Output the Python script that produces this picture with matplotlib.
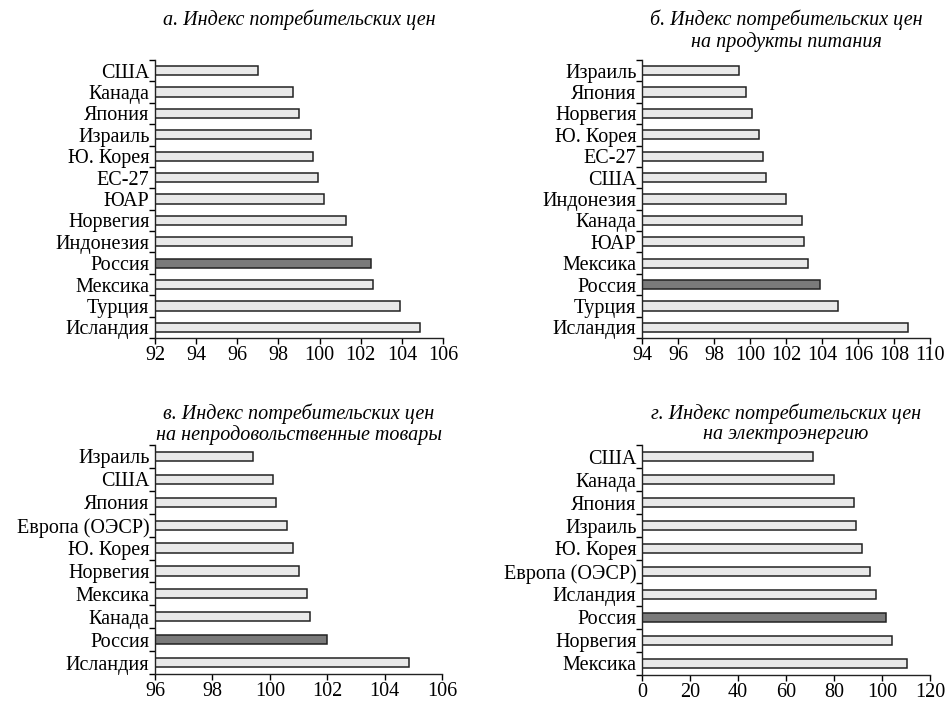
import numpy as np
import matplotlib
matplotlib.use("Agg")
import matplotlib.pyplot as plt

plt.rcParams["font.family"] = ["Liberation Serif", "DejaVu Serif"]

# ============================================================
# DATA
# ============================================================

cats_a = ["США", "Канада", "Япония", "Израиль", "Ю. Корея", "ЕС-27", "ЮАР",
          "Норвегия", "Индонезия", "Россия", "Мексика", "Турция", "Исландия"]
vals_a = [97.0, 98.7, 99.0, 99.6, 99.7, 99.9, 100.2,
          101.3, 101.6, 102.5, 102.6, 103.9, 104.9]
ticks_a = [92, 94, 96, 98, 100, 102, 104, 106]

cats_b = ["Израиль", "Япония", "Норвегия", "Ю. Корея", "ЕС-27", "США",
          "Индонезия", "Канада", "ЮАР", "Мексика", "Россия", "Турция", "Исландия"]
vals_b = [99.4, 99.8, 100.1, 100.5, 100.7, 100.9,
          102.0, 102.9, 103.0, 103.2, 103.9, 104.9, 108.8]
ticks_b = [94, 96, 98, 100, 102, 104, 106, 108, 110]

cats_c = ["Израиль", "США", "Япония", "Европа (ОЭСР)", "Ю. Корея",
          "Норвегия", "Мексика", "Канада", "Россия", "Исландия"]
vals_c = [99.4, 100.1, 100.2, 100.6, 100.8, 101.0, 101.3, 101.4, 102.0, 104.85]
ticks_c = [96, 98, 100, 102, 104, 106]

cats_d = ["США", "Канада", "Япония", "Израиль", "Ю. Корея",
          "Европа (ОЭСР)", "Исландия", "Россия", "Норвегия", "Мексика"]
vals_d = [71.3, 80.0, 88.3, 89.3, 91.5, 95.0, 97.6, 101.5, 104.3, 110.3]
ticks_d = [0, 20, 40, 60, 80, 100, 120]

titles = [
    "а. Индекс потребительских цен",
    "б. Индекс потребительских цен\nна продукты питания",
    "в. Индекс потребительских цен\nна непродовольственные товары",
    "г. Индекс потребительских цен\nна электроэнергию",
]

HIGHLIGHT = "Россия"

# ============================================================
# PLOT
# ============================================================

W, H = 951, 701
FS = 14.5
fig = plt.figure(figsize=(W / 100, H / 100), dpi=100)


def make_axes(left, top, right, bottom):
    return fig.add_axes([left / W, 1 - bottom / H, (right - left) / W, (bottom - top) / H])


panels = [
    (make_axes(155, 60, 443, 338), cats_a, vals_a, ticks_a, 0.43, 10),
    (make_axes(642, 60, 930, 338), cats_b, vals_b, ticks_b, 0.43, 10),
    (make_axes(155, 445, 442, 674), cats_c, vals_c, ticks_c, 0.40, 403),
    (make_axes(642, 445, 930, 675), cats_d, vals_d, ticks_d, 0.40, 403),
]

for (ax, cats, vals, ticks, bh, ty), title in zip(panels, titles):
    n = len(cats)
    y = np.arange(n)
    colors = ["#7a7a7a" if c == HIGHLIGHT else "#e9e9e9" for c in cats]
    lo = ticks[0]
    ax.barh(y, np.array(vals) - lo, left=lo, height=bh, color=colors,
            edgecolor="#222222", linewidth=1.1)

    ax.set_xlim(ticks[0], ticks[-1])
    ax.set_ylim(n - 0.5, -0.5)
    ax.set_xticks(ticks)
    ax.set_xticklabels([str(t) for t in ticks], fontsize=FS)

    ax.set_yticks(y)
    ax.set_yticklabels(cats, fontsize=FS)
    ax.tick_params(axis="y", which="major", length=0, pad=4)
    ax.set_yticks(np.arange(n + 1) - 0.5, minor=True)
    ax.tick_params(axis="y", which="minor", length=4, width=1.0, direction="out")
    ax.tick_params(axis="x", length=4, width=1.0, direction="out", pad=2)

    for s in ["top", "right"]:
        ax.spines[s].set_visible(False)
    for s in ["left", "bottom"]:
        ax.spines[s].set_linewidth(1.0)
        ax.spines[s].set_color("#222222")

    # panel title, centred over the axes
    pos = ax.get_position()
    fig.text(pos.x0 + pos.width / 2, 1 - ty / H, title, fontsize=FS,
             style="italic", ha="center", va="top", linespacing=1.1,
             multialignment="center")

fig.savefig("out.png", dpi=100, facecolor="white")
